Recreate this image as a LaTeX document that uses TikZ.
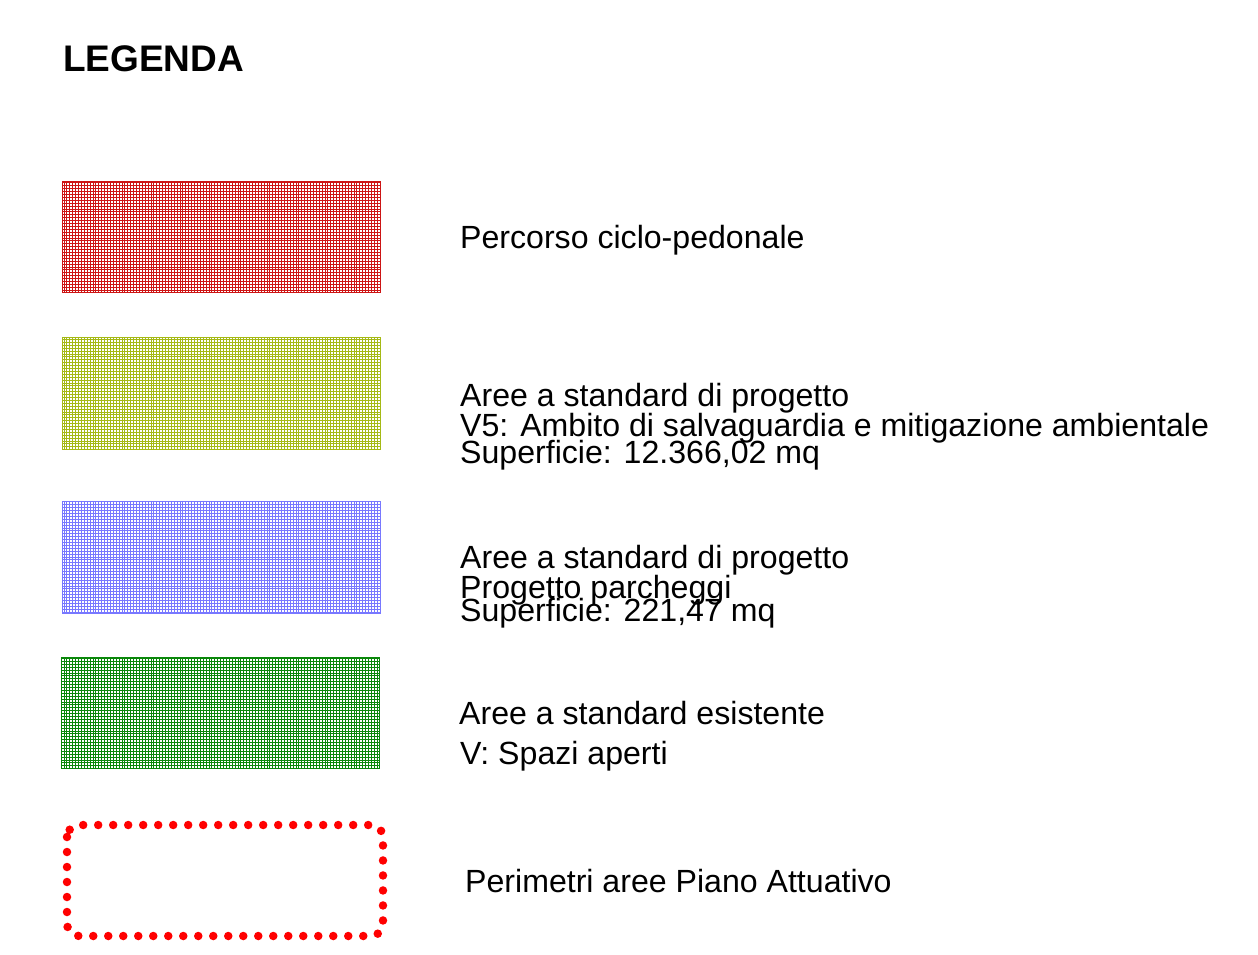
\documentclass[tikz,border=0pt]{standalone}
\usepackage{fontspec}
\setmainfont{Liberation Sans}
\definecolor{cred}{RGB}{205,20,20}
\definecolor{colive}{RGB}{165,185,20}
\definecolor{cblue}{RGB}{120,120,255}
\definecolor{cgreen}{RGB}{10,135,10}
\definecolor{dotred}{RGB}{255,0,0}
\begin{document}
\begin{tikzpicture}[x=1pt,y=-1pt,
  lbl/.style={anchor=base west,inner sep=0pt,font=\fontsize{32.1}{32}\selectfont},
  ttl/.style={anchor=base west,inner sep=0pt,font=\fontsize{37}{37}\selectfont\bfseries},
  gridbox/.style={line width=0.55pt,step=2.9pt},
  border/.style={line width=1pt}]
\useasboundingbox (0,0) rectangle (1258,955);
\node[ttl] (title) at (63,72) {LEGENDA};
% boxes
\foreach \c/\ya/\yb/\xa/\xb in {cred/181/292/62/380, colive/337/449/62/380, cblue/501/613/62/380, cgreen/657/768/61/379}{
  \begin{scope}
    \clip (\xa,\ya) rectangle (\xb,\yb);
    \draw[gridbox,\c] (\xa-5,\ya-5) grid (\xb+5,\yb+5);
  \end{scope}
  \draw[border,\c] (\xa,\ya) rectangle (\xb,\yb);
}
\draw[dotred,line width=8.5pt,line cap=round,dash pattern=on 0pt off 15pt,rounded corners=12pt] (67,825) rectangle (383,936);
% labels
\node[lbl] (l1) at (460,248) {Percorso ciclo-pedonale};
\node[lbl] (l2a) at (460,406) {Aree a standard di progetto};
\node[lbl] (l2b) at (460,436) {V5: Ambito di salvaguardia e mitigazione ambientale};
\node[lbl] (l2c) at (460,463) {Superficie: 12.366,02 mq};
\node[lbl] (l3a) at (460,568) {Aree a standard di progetto};
\node[lbl] (l3b) at (460,598) {Progetto parcheggi};
\node[lbl] (l3c) at (460,621) {Superficie: 221,47 mq};
\node[lbl] (l4a) at (459,724) {Aree a standard esistente};
\node[lbl] (l4b) at (460,764) {V: Spazi aperti};
\node[lbl] (l5) at (465,892) {Perimetri aree Piano Attuativo};
\end{tikzpicture}
\end{document}
